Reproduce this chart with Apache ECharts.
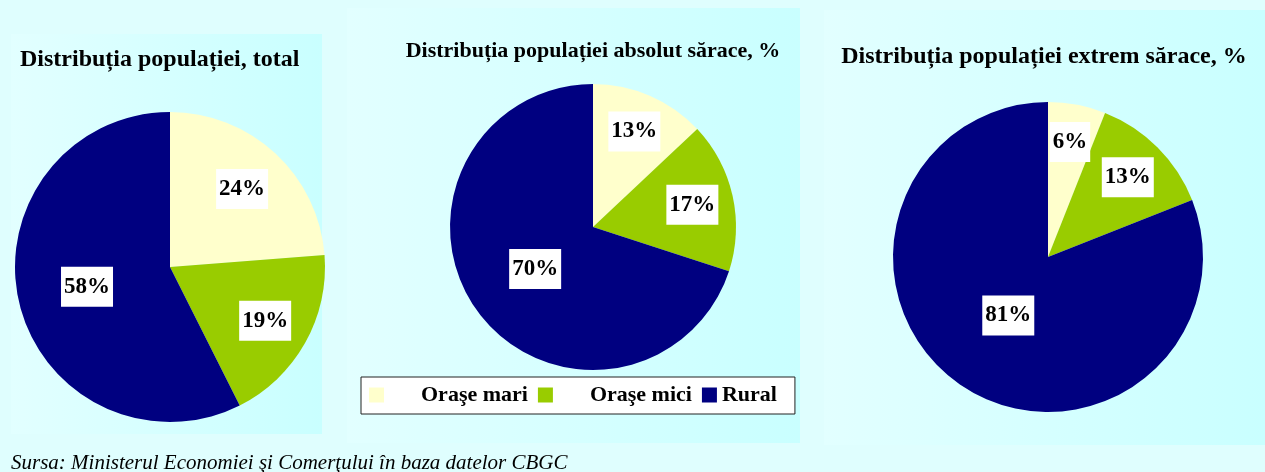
<!DOCTYPE html>
<html>
<head>
<meta charset="utf-8">
<title>Distribuția populației</title>
<script src="https://cdn.jsdelivr.net/npm/echarts@6/dist/echarts.min.js"></script>
<style>
    html, body {margin: 0; padding: 0; background: #dffefe;}
    #main {width: 1265px; height: 472px;}
</style>
</head>
<body>
<div id="main"></div>
<script>
// categorii si valori (%)
const categories = ['Oraşe mari', 'Oraşe mici', 'Rural'];
const totalValues = [24, 19, 58];
const absolutValues = [13, 17, 70];
const extremValues = [6, 13, 81];
const panelTitles = [
    'Distribuția populației, total',
    'Distribuția populației absolut sărace, %',
    'Distribuția populației extrem sărace, %'
];
const sourceText = 'Sursa: Ministerul Economiei şi Comerţului în baza datelor CBGC';

const colors = ['#ffffcc', '#99cc00', '#000080'];
const serif = '"Liberation Serif", "Times New Roman", serif';

// panouri: centru, raza pie
const pies = [
    {values: totalValues, center: [170, 267], r: 155},
    {values: absolutValues, center: [593, 227], r: 143},
    {values: extremValues, center: [1048, 257], r: 155}
];

function toData (values) {
    return values.map(function (v, i) {
        return {name: categories[i], value: v, itemStyle: {color: colors[i]}};
    });
}

// eticheta ca in Excel: feliile mici mai spre margine, cele mari mai spre centru
function labelPos (p, i) {
    const sum = p.values.reduce(function (a, b) { return a + b; }, 0);
    let cum = 0;
    for (let j = 0; j < i; j++) cum += p.values[j];
    const frac = p.values[i] / sum;
    const mid = 2 * Math.PI * (cum + p.values[i] / 2) / sum;
    const k = 0.78 - 0.4 * frac;
    return {
        x: p.center[0] + k * p.r * Math.sin(mid),
        y: p.center[1] - k * p.r * Math.cos(mid)
    };
}

const series = pies.map(function (p) {
    return {
        type: 'pie',
        center: p.center,
        radius: p.r,
        startAngle: 90,
        clockwise: true,
        avoidLabelOverlap: false,
        labelLine: {show: false},
        itemStyle: {borderWidth: 0},
        emphasis: {disabled: true},
        label: {
            show: true,
            position: 'inside',
            formatter: '{c}%',
            backgroundColor: '#fff',
            padding: [9, 3, 9, 3],
            color: '#000',
            fontFamily: serif,
            fontWeight: 'bold',
            fontSize: 23,
            lineHeight: 22
        },
        labelLayout: function (params) {
            return labelPos(p, params.dataIndex);
        },
        data: toData(p.values)
    };
});

function panelBg (x, y, w, h) {
    return {
        type: 'rect',
        z: -10,
        shape: {x: x, y: y, width: w, height: h},
        style: {
            fill: {
                type: 'linear', x: 0, y: 0, x2: 1, y2: 0,
                colorStops: [{offset: 0, color: '#e2ffff'}, {offset: 1, color: '#c9ffff'}]
            }
        }
    };
}

const myChart = echarts.init(document.getElementById('main'));
myChart.setOption({
    backgroundColor: '#dffefe',
    animation: false,
    graphic: [
        panelBg(11, 34, 311, 400),
        panelBg(347, 8, 453, 435),
        panelBg(824, 10, 441, 435)
    ],
    title: [
        {
            text: panelTitles[0],
            left: 20, top: 48, padding: 0,
            textStyle: {fontFamily: serif, fontWeight: 'bold', fontSize: 24, color: '#000'}
        },
        {
            text: panelTitles[1],
            left: 593, top: 40, padding: 0, textAlign: 'center',
            textStyle: {fontFamily: serif, fontWeight: 'bold', fontSize: 22, color: '#000'}
        },
        {
            text: panelTitles[2],
            left: 1044, top: 45, padding: 0, textAlign: 'center',
            textStyle: {fontFamily: serif, fontWeight: 'bold', fontSize: 24, color: '#000'}
        },
        {
            text: sourceText,
            left: 11, top: 453, padding: 0,
            textStyle: {fontFamily: serif, fontStyle: 'italic', fontWeight: 'normal', fontSize: 21, color: '#000'}
        }
    ],
    legend: {
        data: categories,
        left: 361, top: 377,
        orient: 'horizontal',
        selectedMode: false,
        backgroundColor: '#fff',
        borderColor: '#222',
        borderWidth: 1,
        borderRadius: 0,
        padding: [7, 18, 8, 8],
        itemGap: 10,
        itemWidth: 15,
        itemHeight: 15,
        icon: 'rect',
        formatter: function (name) {
            return name === 'Rural' ? name : '{g|' + name + '}';
        },
        textStyle: {
            fontFamily: serif, fontWeight: 'bold', fontSize: 22, color: '#000', lineHeight: 22,
            rich: {
                g: {fontFamily: serif, fontWeight: 'bold', fontSize: 22, color: '#000', lineHeight: 22, padding: [0, 0, 0, 32]}
            }
        }
    },
    series: series
});
</script>
</body>
</html>
